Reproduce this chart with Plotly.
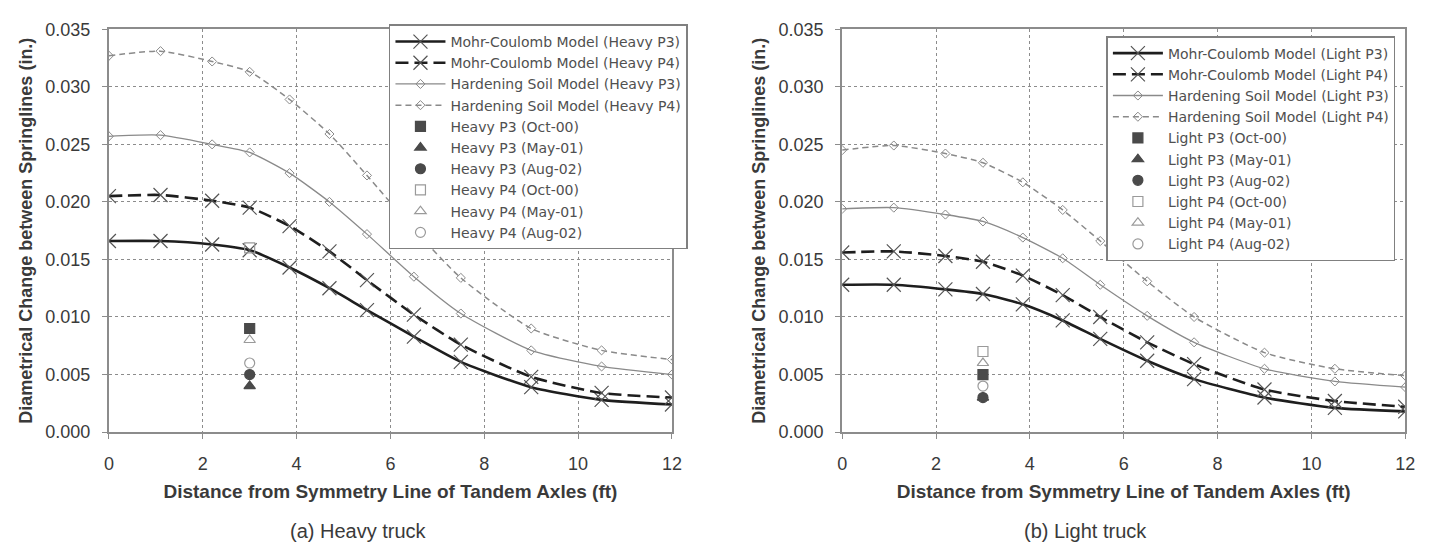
import plotly.graph_objects as go

# ---------------- data ----------------
x_model = [0, 1.1, 2.2, 3.0, 3.85, 4.7, 5.5, 6.5, 7.5, 9.0, 10.5, 12]

# Heavy truck
heavy_mc_p3 = [0.0166, 0.0166, 0.0163, 0.0158, 0.0143, 0.0125, 0.0106, 0.0083, 0.0061, 0.0039, 0.0028, 0.0024]
heavy_mc_p4 = [0.0205, 0.0206, 0.0201, 0.0195, 0.0179, 0.0157, 0.0132, 0.0102, 0.0076, 0.0048, 0.0034, 0.0030]
heavy_hs_p3 = [0.0257, 0.0258, 0.0250, 0.0243, 0.0225, 0.0200, 0.0172, 0.0135, 0.0103, 0.0071, 0.0057, 0.0050]
heavy_hs_p4 = [0.0327, 0.0331, 0.0322, 0.0313, 0.0289, 0.0259, 0.0223, 0.0176, 0.0134, 0.0090, 0.0071, 0.0063]

# Light truck
light_mc_p3 = [0.0128, 0.0128, 0.0124, 0.0120, 0.0111, 0.0097, 0.0081, 0.0062, 0.0046, 0.0030, 0.0021, 0.0018]
light_mc_p4 = [0.0156, 0.0157, 0.0153, 0.0148, 0.0136, 0.0119, 0.0100, 0.0078, 0.0059, 0.0037, 0.0027, 0.0022]
light_hs_p3 = [0.0194, 0.0195, 0.0189, 0.0183, 0.0169, 0.0151, 0.0128, 0.0101, 0.0078, 0.0055, 0.0044, 0.0039]
light_hs_p4 = [0.0245, 0.0249, 0.0242, 0.0234, 0.0217, 0.0193, 0.0166, 0.0131, 0.0100, 0.0069, 0.0055, 0.0049]

# Measured (at 3 ft)
x_meas = [3.0]
heavy_meas = {
    "P3 (Oct-00)": 0.009, "P3 (May-01)": 0.004, "P3 (Aug-02)": 0.005,
    "P4 (Oct-00)": 0.016, "P4 (May-01)": 0.008, "P4 (Aug-02)": 0.006,
}
light_meas = {
    "P3 (Oct-00)": 0.005, "P3 (May-01)": 0.003, "P3 (Aug-02)": 0.003,
    "P4 (Oct-00)": 0.007, "P4 (May-01)": 0.006, "P4 (Aug-02)": 0.004,
}

x_ticks = [0, 2, 4, 6, 8, 10, 12]
y_ticks = [0.000, 0.005, 0.010, 0.015, 0.020, 0.025, 0.030, 0.035]

FONT = "Liberation Sans, Arial, sans-serif"
LFONT = "DejaVu Sans, Liberation Sans, sans-serif"
DARK = "#1e1e1e"
GRAY = "#8a8a8a"
MFILL = "#4a4a4a"
MOPEN = "#9a9a9a"
TXT = "#3a3a3a"

fig = go.Figure()


def add_panel(xa, ya, leg, truck, mc3, mc4, hs3, hs4, meas):
    common = dict(xaxis=xa, yaxis=ya, legend=leg)
    fig.add_trace(go.Scatter(x=x_model, y=mc3, mode="lines+markers",
                             name=f"Mohr-Coulomb Model ({truck} P3)",
                             line=dict(color=DARK, width=2.6, shape="spline", smoothing=0.6),
                             marker=dict(symbol="x-thin", size=14, line=dict(width=1.2, color="#555")),
                             **common))
    fig.add_trace(go.Scatter(x=x_model, y=mc4, mode="lines+markers",
                             name=f"Mohr-Coulomb Model ({truck} P4)",
                             line=dict(color=DARK, width=2.6, dash="13px,6px", shape="spline", smoothing=0.6),
                             marker=dict(symbol="x-thin", size=14, line=dict(width=1.2, color="#555")),
                             **common))
    fig.add_trace(go.Scatter(x=x_model, y=hs3, mode="lines+markers",
                             name=f"Hardening Soil Model ({truck} P3)",
                             line=dict(color=GRAY, width=1.3, shape="spline", smoothing=0.6),
                             marker=dict(symbol="diamond-open", size=7, color=GRAY, line=dict(width=1)),
                             **common))
    fig.add_trace(go.Scatter(x=x_model, y=hs4, mode="lines+markers",
                             name=f"Hardening Soil Model ({truck} P4)",
                             line=dict(color=GRAY, width=1.5, dash="6px,4px", shape="spline", smoothing=0.6),
                             marker=dict(symbol="diamond-open", size=7, color=GRAY, line=dict(width=1)),
                             **common))
    syms = {"Oct-00": "square", "May-01": "triangle-up", "Aug-02": "circle"}
    for key, val in meas.items():
        p, d = key.split(" ")
        d = d.strip("()")
        filled = p == "P3"
        sym = syms[d] + ("" if filled else "-open")
        fig.add_trace(go.Scatter(x=x_meas, y=[val], mode="markers",
                                 name=f"{truck} {key}",
                                 marker=dict(symbol=sym, size=10,
                                             color=MFILL if filled else MOPEN,
                                             line=dict(width=1.2, color=MFILL if filled else MOPEN)),
                                 **common))


add_panel("x", "y", "legend", "Heavy", heavy_mc_p3, heavy_mc_p4, heavy_hs_p3, heavy_hs_p4, heavy_meas)
add_panel("x2", "y2", "legend2", "Light", light_mc_p3, light_mc_p4, light_hs_p3, light_hs_p4, light_meas)

ydom = [1 - 438 / 550, 1 - 20 / 550]
axis_common = dict(showline=True, linecolor="#8c8c8c", linewidth=2, mirror=True,
                   ticks="outside", ticklen=5, tickcolor="#8c8c8c",
                   showgrid=True, gridcolor="#8c8c8c", griddash="dot", gridwidth=1,
                   zeroline=False, tickfont=dict(family=FONT, size=18, color=TXT))
xt = dict(text="Distance from Symmetry Line of Tandem Axles (ft)",
          font=dict(family=FONT, size=19, color=TXT, weight="bold"), standoff=12)
yt = dict(text="Diametrical Change between Springlines (in.)",
          font=dict(family=FONT, size=18, color=TXT, weight="bold"), standoff=8)

legend_common = dict(xanchor="left", yanchor="top", bgcolor="white",
                     bordercolor="#808080", borderwidth=1.5,
                     font=dict(family=LFONT, size=14, color="#505050"),
                     itemwidth=50, tracegroupgap=0)

fig.update_layout(
    width=1439, height=550, margin=dict(l=0, r=0, t=0, b=0),
    paper_bgcolor="white", plot_bgcolor="white",
    font=dict(family=FONT, color=TXT),
    xaxis=dict(domain=[105 / 1439, 674 / 1439], range=[0, 12], tickvals=x_ticks, anchor="y",
               title=xt, ticklabelstandoff=9, **axis_common),
    yaxis=dict(domain=ydom, range=[0, 0.035], tickvals=y_ticks, tickformat=".3f", anchor="x",
               title=yt, ticklabelstandoff=8, **axis_common),
    xaxis2=dict(domain=[846 / 1439, 1415 / 1439], range=[0, 12], tickvals=x_ticks, anchor="y2",
                title=xt, ticklabelstandoff=9, **axis_common),
    yaxis2=dict(domain=ydom, range=[0, 0.035], tickvals=y_ticks, tickformat=".3f", anchor="x2",
                title=yt, ticklabelstandoff=8, **axis_common),
    legend=dict(x=388 / 1439, y=1 - 15 / 550, **legend_common),
    legend2=dict(x=1113 / 1439, y=1 - 27 / 550, **legend_common),
    showlegend=True,
    annotations=[
        dict(text="(a) Heavy truck", x=357 / 1439, y=1 - 541 / 550, xref="paper", yref="paper",
             xanchor="center", yanchor="middle",
             showarrow=False, font=dict(family=FONT, size=20, color=TXT)),
        dict(text="(b) Light truck", x=1092 / 1439, y=1 - 541 / 550, xref="paper", yref="paper",
             xanchor="center", yanchor="middle",
             showarrow=False, font=dict(family=FONT, size=20, color=TXT)),
    ],
)

fig.write_html("out.html")
